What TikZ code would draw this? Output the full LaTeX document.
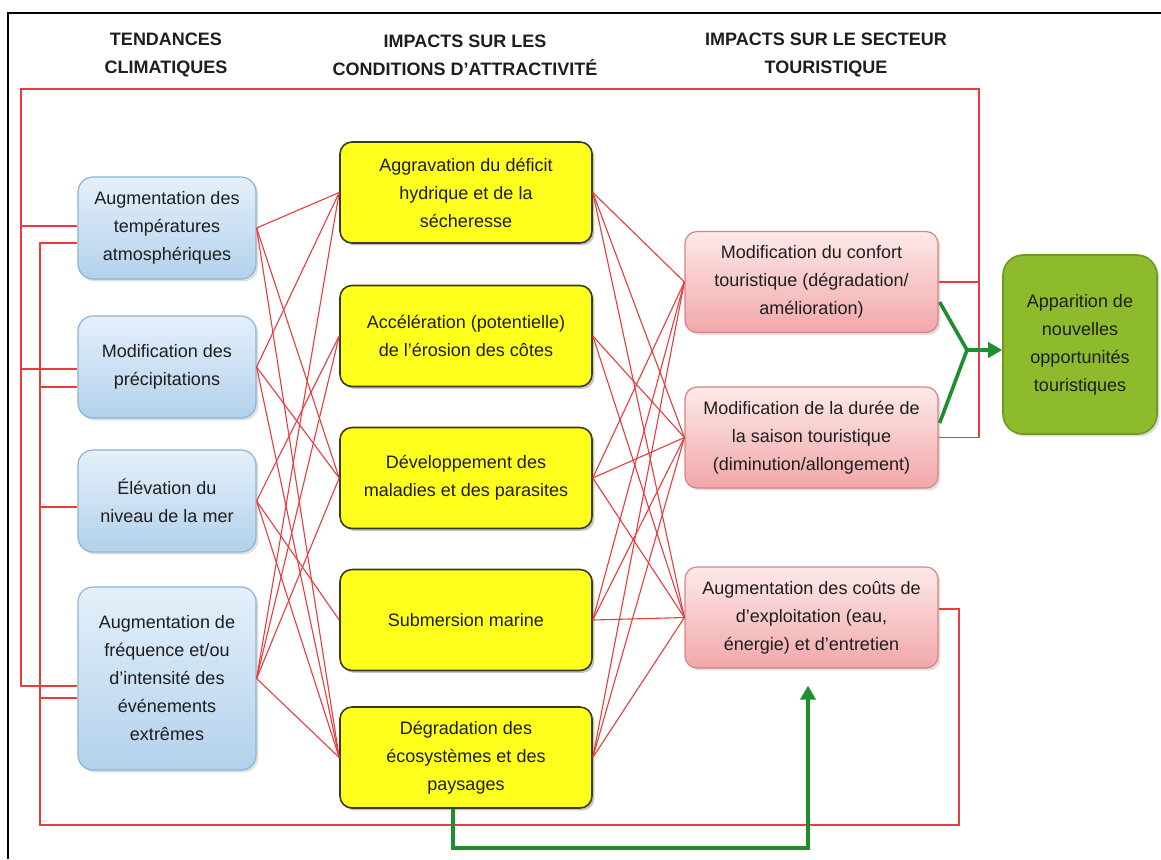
\documentclass[tikz,border=0pt]{standalone}
\usepackage{fontspec}
\setmainfont{Liberation Sans}
\usetikzlibrary{arrows.meta,calc,shadows}
\definecolor{txt}{HTML}{1E1E1E}
\definecolor{bluet}{HTML}{E4F0FA}
\definecolor{blueb}{HTML}{B3D1EC}
\definecolor{bluedraw}{HTML}{8DB3D5}
\definecolor{yel}{HTML}{FFFF1E}
\definecolor{yeldraw}{HTML}{3B3B1E}
\definecolor{pinkt}{HTML}{FDE9E9}
\definecolor{pinkb}{HTML}{F2A7A9}
\definecolor{pinkdraw}{HTML}{D98385}
\definecolor{grbox}{HTML}{8DBB2B}
\definecolor{grdraw}{HTML}{6E9A22}
\definecolor{redl}{HTML}{EC3B3E}
\definecolor{grl}{HTML}{1F8F2E}
\begin{document}
\begin{tikzpicture}[x=0.5pt,y=-0.5pt,
  box/.style={rounded corners=6pt, align=center, inner sep=0pt,
    font=\fontsize{9}{14}\selectfont, text=txt},
  bluebox/.style={box, draw=bluedraw, line width=0.6pt, top color=bluet, bottom color=blueb,
    minimum width=89pt, rounded corners=7.5pt,
    drop shadow={opacity=0.25, shadow xshift=1.2pt, shadow yshift=-1.2pt}},
  yelbox/.style={box, draw=yeldraw, line width=0.8pt, fill=yel,
    minimum width=126pt, minimum height=50.5pt,
    drop shadow={opacity=0.45, shadow xshift=1.2pt, shadow yshift=-1.2pt}},
  pinkbox/.style={box, draw=pinkdraw, line width=0.6pt, top color=pinkt, bottom color=pinkb,
    minimum width=126.5pt, minimum height=50.5pt,
    drop shadow={opacity=0.25, shadow xshift=1.2pt, shadow yshift=-1.2pt}},
  grnbox/.style={box, draw=grdraw, line width=0.8pt, fill=grbox, rounded corners=10pt,
    minimum width=77pt, minimum height=89.5pt,
    drop shadow={opacity=0.3, shadow xshift=1.2pt, shadow yshift=-1.2pt}},
  hdr/.style={align=center, inner sep=0pt, font=\fontsize{9}{14}\selectfont\bfseries, text=txt},
  con/.style={draw=redl, line width=0.55pt},
  fb/.style={draw=redl, line width=0.8pt},
  gline/.style={draw=grl, line width=1.8pt},
]
\useasboundingbox (0,0) rectangle (1161,859);
\fill[white] (0,0) rectangle (1161,859);

% frame
\coordinate (F1) at (8,859);
\coordinate (F2) at (8,13);
\coordinate (F3) at (1161,13);
\draw[line width=1pt, black] (F1) -- (F2) -- (F3);

% headers
\node[hdr] (h1) at (166,55) {TENDANCES\\CLIMATIQUES};
\node[hdr] (h2) at (465,55) {IMPACTS SUR LES\\CONDITIONS D'ATTRACTIVITÉ};
\node[hdr] (h3) at (826,55) {IMPACTS SUR LE SECTEUR\\TOURISTIQUE};

% feedback coordinates
\coordinate (TL) at (21,89);
\coordinate (TR) at (979,89);
\coordinate (BR) at (959,825);
\coordinate (BL) at (40,825);

% blue boxes
\node[bluebox, minimum height=51pt] (B1) at (167,228) {Augmentation des\\températures\\atmosphériques};
\node[bluebox, minimum height=51pt] (B2) at (167,367) {Modification des\\précipitations};
\node[bluebox, minimum height=51pt] (B3) at (167,501) {Élévation du\\niveau de la mer};
\node[bluebox, minimum height=91.5pt] (B4) at (167,678.5) {Augmentation de\\fréquence et/ou\\d'intensité des\\événements\\extrêmes};

% yellow boxes
\node[yelbox] (Y1) at (466,192.5) {Aggravation du déficit\\hydrique et de la\\sécheresse};
\node[yelbox] (Y2) at (466,336) {Accélération (potentielle)\\de l'érosion des côtes};
\node[yelbox] (Y3) at (466,478) {Développement des\\maladies et des parasites};
\node[yelbox] (Y4) at (466,620) {Submersion marine};
\node[yelbox] (Y5) at (466,757.5) {Dégradation des\\écosystèmes et des\\paysages};

% pink boxes
\node[pinkbox] (P1) at (811.5,282) {Modification du confort\\touristique (dégradation/\\amélioration)};
\node[pinkbox] (P2) at (811.5,437.5) {Modification de la durée de\\la saison touristique\\(diminution/allongement)};
\node[pinkbox] (P3) at (811.5,617.5) {Augmentation des coûts de\\d'exploitation (eau,\\énergie) et d'entretien};

% green box
\node[grnbox] (G) at (1080,344.5) {Apparition de\\nouvelles\\opportunités\\touristiques};

% left -> middle connectors
\foreach \b/\y in {B1/Y1,B1/Y3,B1/Y5,B2/Y1,B2/Y3,B2/Y5,B3/Y2,B3/Y4,B3/Y5,B4/Y1,B4/Y2,B4/Y3,B4/Y5}
  \draw[con] (\b.east) -- (\y.west);

% middle -> right connectors
\foreach \y/\p in {Y1/P1,Y1/P2,Y1/P3,Y2/P2,Y2/P3,Y3/P1,Y3/P2,Y3/P3,Y4/P1,Y4/P2,Y4/P3,Y5/P1,Y5/P2,Y5/P3}
  \draw[con] (\y.east) -- (\p.west);

% anchor points of the feedback lines on the boxes
\coordinate (a1) at ($(B1.west)+(0,-2)$);
\coordinate (a2) at ($(B2.west)+(0,2)$);
\coordinate (a4) at ($(B4.west)+(0,7.5)$);
\coordinate (c1) at ($(B1.west)+(0,15)$);
\coordinate (c2) at ($(B2.west)+(0,20)$);
\coordinate (c3) at ($(B3.west)+(0,6)$);
\coordinate (c4) at ($(B4.west)+(0,19.5)$);
\coordinate (p3a) at ($(P3.east)+(0,-8.5)$);

% feedback loop from P1 / P2 (top)
\draw[fb] (P2.east) -- (P2.east -| TR) -- (TR) -- (TL) |- (a4);
\draw[fb] (P1.east) -- (P1.east -| TR);
\draw[fb] (a1) -- (a1 -| TL);
\draw[fb] (a2) -- (a2 -| TL);

% feedback loop from P3 (bottom)
\draw[fb] (p3a) -- (p3a -| BR) -- (BR) -- (BL) |- (c1);
\draw[fb] (c2) -- (c2 -| BL);
\draw[fb] (c3) -- (c3 -| BL);
\draw[fb] (c4) -- (c4 -| BL);

% green merge arrow
\coordinate (J) at (967,350);
\coordinate (g1) at ($(P1.east)+(1,20)$);
\coordinate (g2) at ($(P2.east)+(1,-14.5)$);
\draw[gline] (g1) -- (J);
\draw[gline] (g2) -- (J);
\draw[gline, -{Triangle[length=7pt,width=7.5pt]}] (J) -- (J -| G.west);

% green bottom arrow
\coordinate (GB) at (808,848);
\coordinate (gs) at ($(Y5.south)+(-13,0)$);
\draw[gline, -{Triangle[length=7pt,width=7.5pt]}, shorten >=8.5pt]
  (gs) |- (GB) -- (GB |- P3.south);
\end{tikzpicture}
\end{document}
